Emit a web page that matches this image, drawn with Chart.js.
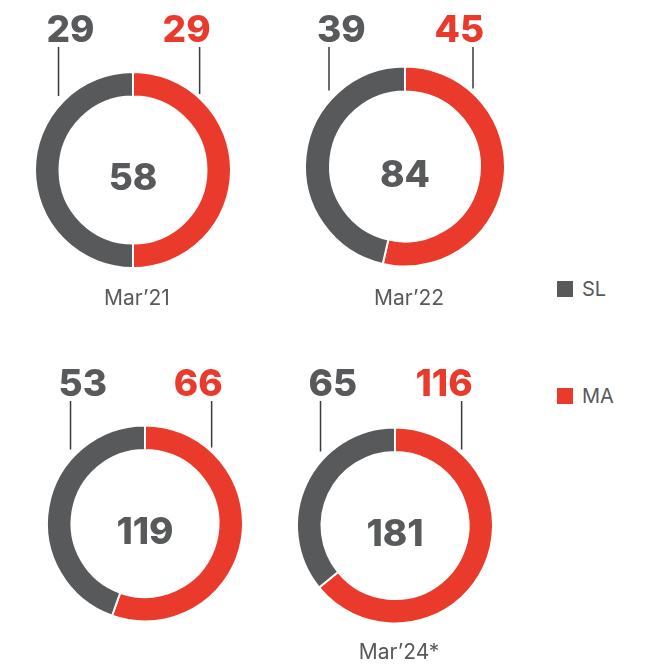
<!DOCTYPE html>
<html>
<head>
<meta charset="utf-8">
<script src="https://cdn.jsdelivr.net/npm/chart.js@4"></script>
<style>
  body { margin: 0; background: #fff; width: 646px; height: 665px; position: relative; overflow: hidden; font-family: Inter, sans-serif; }
  canvas { position: absolute; }
  .legend-item { position: absolute; left: 557px; display: flex; align-items: center; font-size: 20px; line-height: 16px; color: #58595b; }
  .legend-item .box { width: 16px; height: 16px; margin-right: 9px; display: inline-block; }
</style>
</head>
<body>
<script>
// Data
const periods = ["Mar’21", "Mar’22", "", "Mar’24*"];
const seriesNames = ["SL", "MA"];
const slValues = [29, 39, 53, 65];
const maValues = [29, 45, 66, 116];

const GRAY = "#58595b";
const RED = "#ea3a2b";
const seriesColors = { SL: GRAY, MA: RED };

// where each ring sits on the page
const slots = [
  { cx: 133, cy: 170, r: 98, top: 0 },
  { cx: 404.5, cy: 166.5, r: 100, top: 0 },
  { cx: 145, cy: 523.5, r: 98, top: 354 },
  { cx: 395, cy: 525.5, r: 98, top: 354 }
];
const W = 250, H = 310;

// value labels, leader lines, total in the middle and period below
const ringLabels = {
  id: 'ringLabels',
  afterDraw(chart) {
    const i = chart.options.plugins.ringLabels.index;
    const ctx = chart.ctx;
    const arc = chart.getDatasetMeta(0).data[0];
    const x = arc.x, y = arc.y, r = arc.outerRadius;
    ctx.save();

    ctx.font = '800 37px Inter';
    ctx.fillStyle = GRAY;
    ctx.textAlign = 'center';
    ctx.textBaseline = 'alphabetic';
    ctx.fillText(String(slValues[i] + maValues[i]), x, y + 20);

    const lx = x - r * 0.76, rx = x + r * 0.68;
    ctx.strokeStyle = '#3a3a3a';
    ctx.lineWidth = 1.5;
    ctx.beginPath();
    ctx.moveTo(lx, 47); ctx.lineTo(lx, y - r + 24);
    ctx.moveTo(rx, 47); ctx.lineTo(rx, y - r + 22);
    ctx.stroke();

    ctx.textAlign = 'left';
    ctx.fillStyle = GRAY;
    ctx.fillText(String(slValues[i]), lx - 12, 42);
    ctx.textAlign = 'right';
    ctx.fillStyle = RED;
    ctx.fillText(String(maValues[i]), rx + 11, 42);

    ctx.font = '400 21px Inter';
    ctx.textAlign = 'center';
    ctx.fillStyle = GRAY;
    ctx.fillText(periods[i], x + 4, H - 5);
    ctx.restore();
  }
};

slots.forEach((s, i) => {
  const canvas = document.createElement('canvas');
  canvas.width = W;
  canvas.height = H;
  canvas.style.left = (s.cx - W / 2) + 'px';
  canvas.style.top = s.top + 'px';
  document.body.appendChild(canvas);

  const side = W / 2 - (s.r + 1);
  const padTop = s.cy - s.top - (s.r + 1);
  const padBottom = H - padTop - 2 * (s.r + 1);

  new Chart(canvas.getContext('2d'), {
    type: 'doughnut',
    data: {
      labels: ["MA", "SL"],
      datasets: [{
        data: [maValues[i], slValues[i]],
        backgroundColor: [RED, GRAY],
        borderColor: '#ffffff',
        borderWidth: 2,
        hoverBorderWidth: 2
      }]
    },
    options: {
      responsive: false,
      animation: false,
      cutout: '75%',
      layout: { padding: { left: side, right: side, top: padTop, bottom: padBottom } },
      plugins: {
        legend: { display: false },
        tooltip: { enabled: false },
        ringLabels: { index: i }
      }
    },
    plugins: [ringLabels]
  });
});

// Legend
const legendTops = [281, 388];
seriesNames.forEach((name, k) => {
  const item = document.createElement('div');
  item.className = 'legend-item';
  item.style.top = legendTops[k] + 'px';
  item.innerHTML = `<span class="box" style="background:${seriesColors[name]}"></span><span>${name}</span>`;
  document.body.appendChild(item);
});
</script>
</body>
</html>
